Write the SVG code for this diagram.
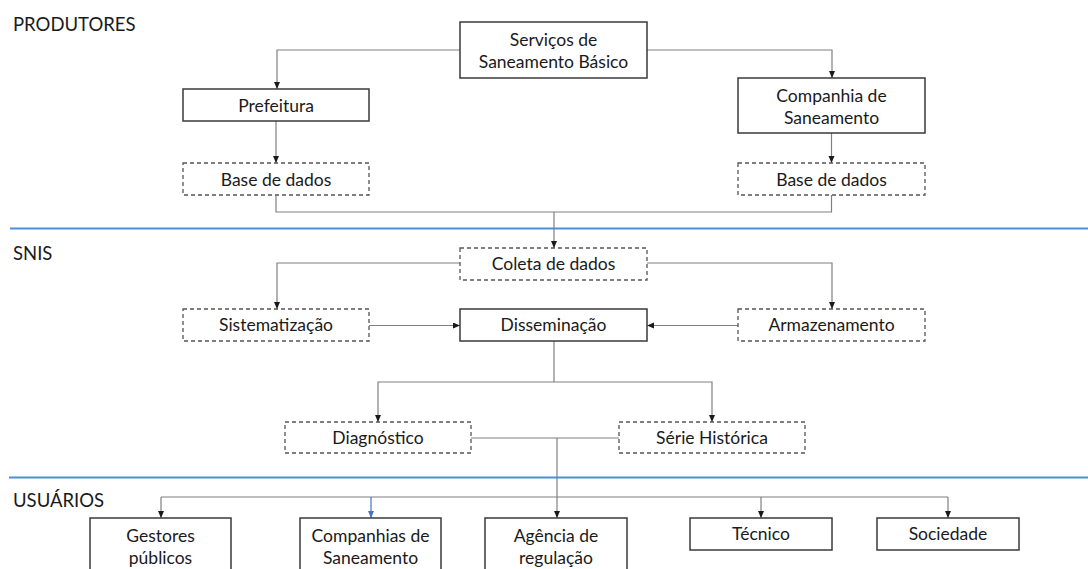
<svg xmlns="http://www.w3.org/2000/svg" width="1088" height="569" viewBox="0 0 1088 569">
<style>
text{font-family:Lato,"Liberation Sans",sans-serif;fill:#1a1a1a;}
.t{font-size:17.5px;text-anchor:middle;}
.h{font-size:18.5px;}
.box{fill:#fff;stroke:#3a3a3a;stroke-width:1.5;}
.dbox{fill:#fff;stroke:#555;stroke-width:1.3;stroke-dasharray:4 3;}
.c{fill:none;stroke:#808080;stroke-width:1.2;}
.ca{fill:none;stroke:#808080;stroke-width:1.2;marker-end:url(#a);}
.cb{fill:none;stroke:#4472c4;stroke-width:1.2;marker-end:url(#ab);}
.sep{stroke:#4a90d9;stroke-width:2.2;}
</style>
<defs>
<marker id="a" markerUnits="userSpaceOnUse" markerWidth="7" markerHeight="7" refX="7" refY="3" orient="auto"><path d="M0,0 L7,3 L0,6 z" fill="#1a1a1a"/></marker>
<marker id="ab" markerUnits="userSpaceOnUse" markerWidth="7" markerHeight="7" refX="7" refY="3" orient="auto"><path d="M0,0 L7,3 L0,6 z" fill="#4472c4"/></marker>
</defs>
<rect width="1088" height="569" fill="#fff"/>
<g id="separators">
<line class="sep" x1="10" y1="228.5" x2="1088" y2="228.5"/>
<line class="sep" x1="9" y1="477.5" x2="1088" y2="477.5"/>
</g>
<g id="headers">
<text class="h" x="13" y="31">PRODUTORES</text>
<text class="h" x="13" y="260">SNIS</text>
<text class="h" x="13" y="507">USUÁRIOS</text>
</g>
<g id="connectors">
<path class="ca" d="M460,50 H277 V89"/>
<path class="ca" d="M647,50 H832 V78"/>
<path class="ca" d="M276,121 V163"/>
<path class="ca" d="M831.5,133 V163"/>
<path class="c" d="M276,195 V212 H831.5 V195"/>
<path class="ca" d="M554,212 V248"/>
<path class="ca" d="M460,263 H277 V309"/>
<path class="ca" d="M647,263 H832 V309"/>
<path class="ca" d="M369,325.5 H460"/>
<path class="ca" d="M738,325.5 H647"/>
<path class="c" d="M554,341 V382"/>
<path class="ca" d="M554,382 H378 V422"/>
<path class="ca" d="M554,382 H712 V422"/>
<path class="c" d="M471,438 H619"/>
<path class="ca" d="M557,438 V518"/>
<path class="c" d="M161,497 H948"/>
<path class="ca" d="M161,497 V518"/>
<path class="cb" d="M371,497 V518"/>
<path class="ca" d="M761,497 V518"/>
<path class="ca" d="M948,497 V518"/>
</g>
<g id="servicos"><rect class="box" x="460" y="22" width="187" height="56"/><text class="t" x="553.5" y="45.5">Serviços de</text><text class="t" x="553.5" y="68">Saneamento Básico</text></g>
<g id="prefeitura"><rect class="box" x="183" y="89" width="186" height="32"/><text class="t" x="276" y="111.5">Prefeitura</text></g>
<g id="companhia"><rect class="box" x="738" y="78" width="187" height="55"/><text class="t" x="831.5" y="101.5">Companhia de</text><text class="t" x="831.5" y="124">Saneamento</text></g>
<g id="base1"><rect class="dbox" x="183" y="163" width="186" height="32"/><text class="t" x="276" y="185.5">Base de dados</text></g>
<g id="base2"><rect class="dbox" x="738" y="163" width="187" height="32"/><text class="t" x="831.5" y="185.5">Base de dados</text></g>
<g id="coleta"><rect class="dbox" x="460" y="248" width="187" height="32"/><text class="t" x="553.5" y="270">Coleta de dados</text></g>
<g id="sistematizacao"><rect class="dbox" x="183" y="309" width="186" height="32"/><text class="t" x="276" y="331">Sistematização</text></g>
<g id="disseminacao"><rect class="box" x="460" y="309" width="187" height="32"/><text class="t" x="553.5" y="331">Disseminação</text></g>
<g id="armazenamento"><rect class="dbox" x="738" y="309" width="187" height="32"/><text class="t" x="831.5" y="331">Armazenamento</text></g>
<g id="diagnostico"><rect class="dbox" x="285" y="422" width="186" height="31"/><text class="t" x="378" y="443.5">Diagnóstico</text></g>
<g id="serie"><rect class="dbox" x="619" y="422" width="186" height="31"/><text class="t" x="712" y="443.5">Série Histórica</text></g>
<g id="gestores"><rect class="box" x="90" y="518" width="141" height="60"/><text class="t" x="160.5" y="541.5">Gestores</text><text class="t" x="160.5" y="564">públicos</text></g>
<g id="companhias"><rect class="box" x="300" y="518" width="141" height="60"/><text class="t" x="370.5" y="541.5">Companhias de</text><text class="t" x="370.5" y="564">Saneamento</text></g>
<g id="agencia"><rect class="box" x="485" y="518" width="142" height="60"/><text class="t" x="556" y="541.5">Agência de</text><text class="t" x="556" y="564">regulação</text></g>
<g id="tecnico"><rect class="box" x="690" y="518" width="142" height="32"/><text class="t" x="761" y="540">Técnico</text></g>
<g id="sociedade"><rect class="box" x="877" y="518" width="142" height="32"/><text class="t" x="948" y="540">Sociedade</text></g>
</svg>
